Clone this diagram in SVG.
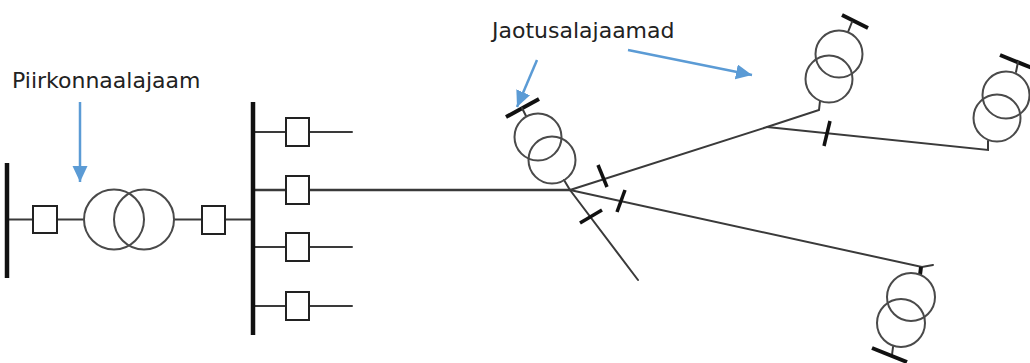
<svg xmlns="http://www.w3.org/2000/svg" width="1030" height="363" viewBox="0 0 1030 363">
<style>
.ln{stroke:#3a3a3a;stroke-width:2;fill:none;stroke-linecap:round}
.bus{stroke:#111;stroke-width:4.5;fill:none;stroke-linecap:butt}
.bar{stroke:#111;stroke-width:4;fill:none;stroke-linecap:butt}
.box{fill:#fff;stroke:#222;stroke-width:2}
.ring{fill:none;stroke:#4a4a4a;stroke-width:2}
.arr{stroke:#5b9bd5;stroke-width:2.5;fill:none}
.lbl{font-family:"DejaVu Sans",Verdana,sans-serif;font-size:22px;fill:#222}
</style>
<defs>
<marker id="ah" markerUnits="userSpaceOnUse" markerWidth="18" markerHeight="16" refX="16" refY="7.5" orient="auto">
<path d="M0,0 L16,7.5 L0,15 Z" fill="#5b9bd5"/>
</marker>
</defs>
<rect width="1030" height="363" fill="#fff"/>

<g id="connectors">
<line class="ln" x1="7" y1="219.5" x2="83" y2="219.5"/>
<line class="ln" x1="174" y1="219.5" x2="253" y2="219.5"/>
<line class="ln" x1="253" y1="132" x2="352" y2="132"/>
<line class="ln" x1="253" y1="190" x2="570" y2="190" style="stroke-width:2.4"/>
<line class="ln" x1="253" y1="247" x2="352" y2="247"/>
<line class="ln" x1="253" y1="306" x2="352" y2="306"/>
<polyline class="ln" points="564,180 570,190 767,127 819,110 820,101"/>
<polyline class="ln" points="767,127 988,150 988,141"/>
<polyline class="ln" points="570,190 922,267 933,265"/>
<line class="ln" x1="570" y1="190" x2="638" y2="280"/>
<line class="bar" x1="598" y1="165" x2="607" y2="187" style="stroke-width:3.5"/>
<line class="bar" x1="625" y1="190" x2="617" y2="212" style="stroke-width:3.5"/>
<line class="bar" x1="580" y1="223" x2="602" y2="210" style="stroke-width:3.5"/>
<line class="bar" x1="830" y1="121" x2="824" y2="146" style="stroke-width:3.5"/>
</g>

<g id="piirkonnaalajaam">
<line class="bus" x1="7" y1="163" x2="7" y2="278"/>
<rect class="box" x="33" y="206" width="24" height="27"/>
<circle class="ring" cx="114" cy="219.5" r="30"/>
<circle class="ring" cx="144" cy="219.5" r="30"/>
<rect class="box" x="202" y="206" width="23" height="28"/>
<line class="bus" x1="253" y1="102" x2="253" y2="335"/>
<rect class="box" x="286" y="118" width="23" height="28"/>
<rect class="box" x="286" y="176" width="23" height="28"/>
<rect class="box" x="286" y="233" width="23" height="28"/>
<rect class="box" x="286" y="292" width="23" height="28"/>
</g>

<g id="jaotusalajaam-1">
<line class="bar" x1="506" y1="117" x2="539" y2="99"/>
<line class="ln" x1="522" y1="108" x2="526" y2="116"/>
<circle class="ring" cx="538" cy="137" r="23.5"/>
<circle class="ring" cx="552" cy="160" r="23.5"/>
</g>

<g id="jaotusalajaam-2">
<line class="bar" x1="842" y1="15" x2="868" y2="28"/>
<line class="ln" x1="852" y1="22" x2="848" y2="32"/>
<circle class="ring" cx="839" cy="54" r="23.5"/>
<circle class="ring" cx="829" cy="79" r="23.5"/>
</g>

<g id="jaotusalajaam-3">
<line class="bar" x1="1000" y1="55" x2="1032" y2="68"/>
<line class="ln" x1="1018" y1="62" x2="1016" y2="72"/>
<circle class="ring" cx="1006" cy="95" r="23.5"/>
<circle class="ring" cx="997" cy="118" r="23.5"/>
</g>

<g id="jaotusalajaam-4">
<line class="bar" x1="921" y1="267" x2="920" y2="275"/>
<circle class="ring" cx="911" cy="297" r="24"/>
<circle class="ring" cx="901" cy="323" r="24"/>
<line class="ln" x1="893" y1="347" x2="892" y2="355"/>
<line class="bar" x1="872" y1="348" x2="907" y2="362"/>
</g>

<g id="labels">
<text class="lbl" x="12" y="88">Piirkonnaalajaam</text>
<line class="arr" x1="80" y1="102" x2="80" y2="182" marker-end="url(#ah)"/>
<text class="lbl" x="492" y="38">Jaotusalajaamad</text>
<line class="arr" x1="537" y1="60" x2="517" y2="107" marker-end="url(#ah)"/>
<line class="arr" x1="628" y1="50" x2="752" y2="75" marker-end="url(#ah)"/>
</g>
</svg>
